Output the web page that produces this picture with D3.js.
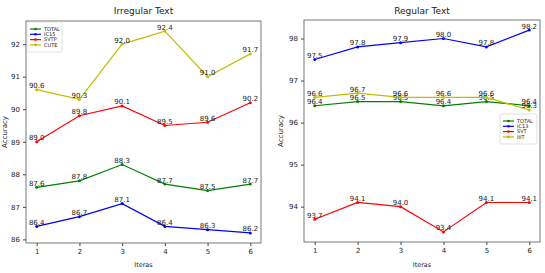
<!DOCTYPE html>
<html>
<head>
<meta charset="utf-8">
<script src="https://cdn.jsdelivr.net/npm/d3@7"></script>
<style>
  body { margin: 0; background: #fff; }
  text { font-family: "DejaVu Sans", sans-serif; fill: #222; }
</style>
</head>
<body>
<div class="chart"></div>
<script>
// data
var iteras = [1, 2, 3, 4, 5, 6];

var irregularNames = ["TOTAL", "IC15", "SVTP", "CUTE"];
var irrTotal = [87.6, 87.8, 88.3, 87.7, 87.5, 87.7];
var irrIC15 = [86.4, 86.7, 87.1, 86.4, 86.3, 86.2];
var irrSVTP = [89.0, 89.8, 90.1, 89.5, 89.6, 90.2];
var irrCUTE = [90.6, 90.3, 92.0, 92.4, 91.0, 91.7];
var irregularTicks = [86, 87, 88, 89, 90, 91, 92];

var regularNames = ["TOTAL", "IC13", "SVT", "IIIT"];
var regTotal = [96.4, 96.5, 96.5, 96.4, 96.5, 96.4];
var regIC13 = [97.5, 97.8, 97.9, 98.0, 97.8, 98.2];
var regSVT = [93.7, 94.1, 94.0, 93.4, 94.1, 94.1];
var regIIIT = [96.6, 96.7, 96.6, 96.6, 96.6, 96.3];
var regularTicks = [94, 95, 96, 97, 98];

var colors = ["#008000", "#0000ff", "#ff0000", "#bfbf00"];

var svg = d3.select(".chart").append("svg")
  .attr("width", 545)
  .attr("height", 273);

// draw one panel
function drawPanel(opt) {
  var x = d3.scaleLinear().domain([0.75, 6.25]).range([opt.left, opt.right]);
  var y = d3.scaleLinear().domain(opt.yDomain).range([opt.bottom, opt.top]);
  var g = svg.append("g");

  // axes
  g.append("g")
    .attr("transform", "translate(0," + opt.bottom + ")")
    .call(d3.axisBottom(x).tickValues(iteras).tickFormat(d3.format("d")).tickSize(3).tickPadding(3))
    .call(function(a) { a.select(".domain").remove(); });
  g.append("g")
    .attr("transform", "translate(" + opt.left + ",0)")
    .call(d3.axisLeft(y).tickValues(opt.ticks).tickFormat(d3.format("d")).tickSize(3).tickPadding(3))
    .call(function(a) { a.select(".domain").remove(); });
  g.selectAll(".tick text").attr("font-size", 7).style("fill", "#222");
  g.selectAll(".tick line").attr("stroke", "#444");

  g.append("rect")
    .attr("x", opt.left).attr("y", opt.top)
    .attr("width", opt.right - opt.left).attr("height", opt.bottom - opt.top)
    .attr("fill", "none").attr("stroke", "#555").attr("stroke-width", 0.8);

  var line = d3.line()
    .x(function(d, i) { return x(iteras[i]); })
    .y(function(d) { return y(d); });

  opt.series.forEach(function(s, k) {
    g.append("path")
      .datum(s)
      .attr("d", line)
      .attr("fill", "none")
      .attr("stroke", colors[k])
      .attr("stroke-width", 1.2);
    g.selectAll(null).data(s).enter().append("circle")
      .attr("cx", function(d, i) { return x(iteras[i]); })
      .attr("cy", function(d) { return y(d); })
      .attr("r", 1.5)
      .attr("fill", colors[k]);
    g.selectAll(null).data(s).enter().append("text")
      .attr("x", function(d, i) { return x(iteras[i]); })
      .attr("y", function(d) { return y(d) - 1.5; })
      .attr("text-anchor", "middle")
      .attr("font-size", 7)
      .text(function(d) { return d.toFixed(1); });
  });

  // titles and labels
  g.append("text")
    .attr("x", (opt.left + opt.right) / 2).attr("y", 14)
    .attr("text-anchor", "middle").attr("font-size", 9)
    .text(opt.title);
  g.append("text")
    .attr("x", (opt.left + opt.right) / 2).attr("y", 267)
    .attr("text-anchor", "middle").attr("font-size", 6.5)
    .text("Iteras");
  g.append("text")
    .attr("transform", "translate(" + opt.ylabelX + "," + (opt.top + opt.bottom) / 2 + ") rotate(-90)")
    .attr("text-anchor", "middle").attr("font-size", 7)
    .text("Accuracy");

  // legend
  var lg = g.append("g").attr("transform", "translate(" + opt.legend[0] + "," + opt.legend[1] + ")");
  lg.append("rect")
    .attr("width", opt.legendW).attr("height", 30).attr("rx", 1.5)
    .attr("fill", "#fff").attr("fill-opacity", 0.85)
    .attr("stroke", "#ccc").attr("stroke-width", 0.6);
  opt.names.forEach(function(n, k) {
    var yy = 7 + k * 5.3;
    lg.append("line").attr("x1", 3).attr("x2", 14).attr("y1", yy).attr("y2", yy)
      .attr("stroke", colors[k]).attr("stroke-width", 1.2);
    lg.append("circle").attr("cx", 8.5).attr("cy", yy).attr("r", 1.3).attr("fill", colors[k]);
    lg.append("text").attr("x", 17).attr("y", yy + 1.8).attr("font-size", 5).text(n);
  });
}

drawPanel({
  title: "Irregular Text",
  left: 26, right: 261, top: 21, bottom: 243,
  yDomain: [85.89, 92.71], ticks: irregularTicks,
  series: [irrTotal, irrIC15, irrSVTP, irrCUTE],
  names: irregularNames,
  ylabelX: 7,
  legend: [27, 22], legendW: 35
});

drawPanel({
  title: "Regular Text",
  left: 304, right: 540, top: 20, bottom: 242,
  yDomain: [93.16, 98.44], ticks: regularTicks,
  series: [regTotal, regIC13, regSVT, regIIIT],
  names: regularNames,
  ylabelX: 283,
  legend: [500, 114], legendW: 37
});
</script>
</body>
</html>
